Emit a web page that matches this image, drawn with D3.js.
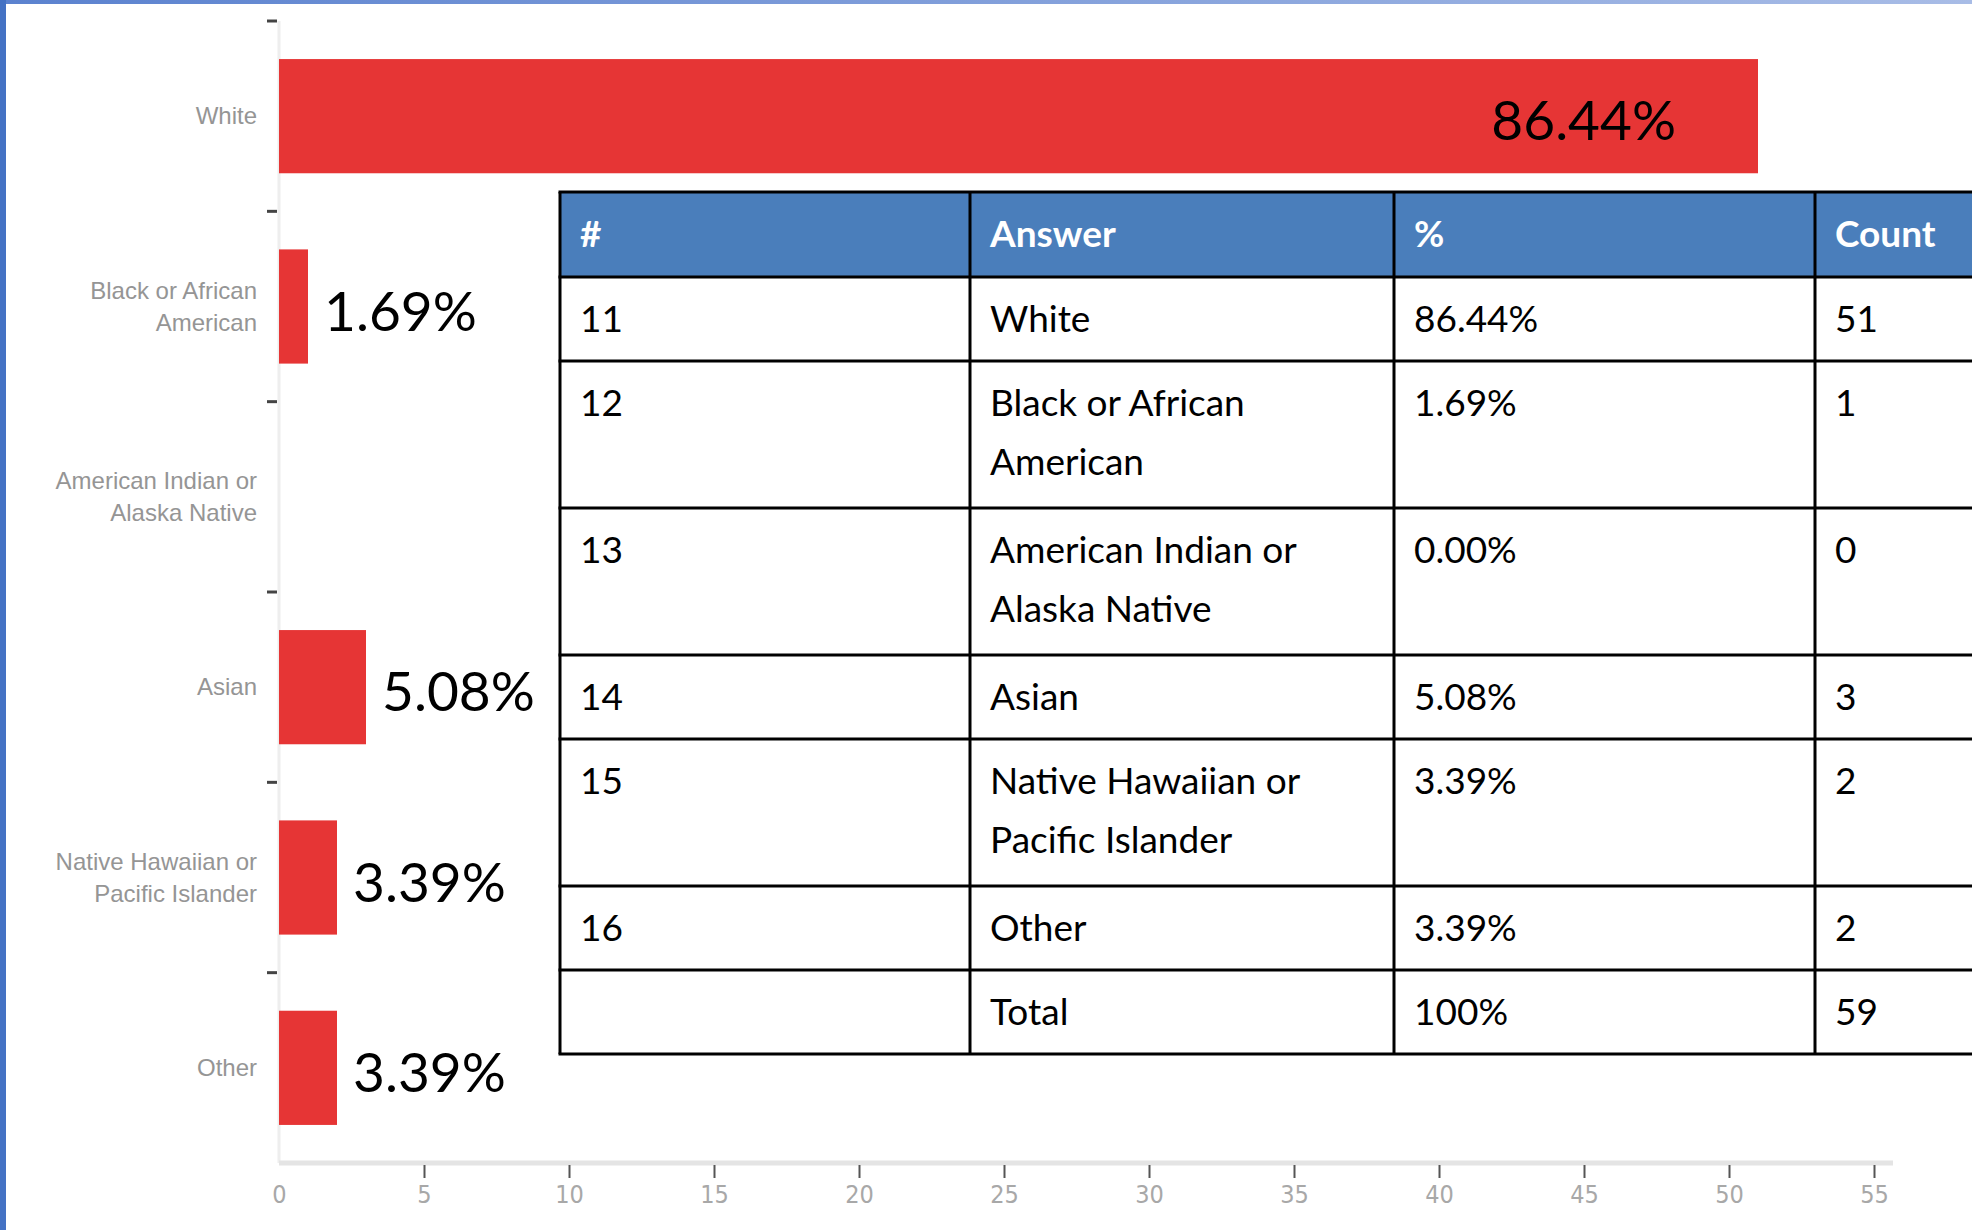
<!DOCTYPE html>
<html lang="en">
<head>
<meta charset="UTF-8">
<title>Race / ethnicity</title>
<script src="https://cdn.jsdelivr.net/npm/d3@7"></script>
<style>
  body { margin: 0; background: #fff; }
  svg { display: block; }
</style>
</head>
<body>
<svg width="1972" height="1230"></svg>
<script>

    // answers, in chart order
    var categories = ["White", "Black or African American", "American Indian or Alaska Native",
                      "Asian", "Native Hawaiian or Pacific Islander", "Other"];
    var labelLines = [["White"], ["Black or African", "American"], ["American Indian or", "Alaska Native"],
                      ["Asian"], ["Native Hawaiian or", "Pacific Islander"], ["Other"]];
    var counts   = [51, 1, 0, 3, 2, 2];
    var percents = ["86.44%", "1.69%", "0.00%", "5.08%", "3.39%", "3.39%"];
    var ids      = [11, 12, 13, 14, 15, 16];
    var xTicks   = [0, 5, 10, 15, 20, 25, 30, 35, 40, 45, 50, 55];

    var tableHeader = ["#", "Answer", "%", "Count"];
    var totalRow    = ["", "Total", "100%", "59"];

    var svg = d3.select("svg"),
        width = +svg.attr("width"),
        height = +svg.attr("height");

    // window frame
    var grad = svg.append("defs").append("linearGradient").attr("id", "topbar");
    grad.append("stop").attr("offset", "0%").attr("stop-color", "#5b82cf");
    grad.append("stop").attr("offset", "100%").attr("stop-color", "#a8bce6");
    svg.append("rect").attr("x", 0).attr("y", 0).attr("width", width).attr("height", 4).attr("fill", "url(#topbar)");
    svg.append("rect").attr("x", 0).attr("y", 0).attr("width", 6).attr("height", height).attr("fill", "#4472c4");

    var x = d3.scaleLinear().domain([0, 55]).range([279, 1874]);
    var y = d3.scaleBand().domain(categories).range([21, 1163])
        .paddingInner(0.4).paddingOuter(0.2);

    // faint y axis line
    svg.append("line")
        .attr("x1", x(0)).attr("x2", x(0))
        .attr("y1", y.range()[0]).attr("y2", y.range()[1])
        .attr("stroke", "#eeeeee").attr("stroke-width", 3);

    // y ticks sit on band boundaries
    var bounds = categories.map(function(c) { return y(c) - y.step() * y.paddingOuter(); });
    svg.append("g").selectAll("line")
        .data(bounds)
        .enter().append("line")
        .attr("x1", x(0) - 12).attr("x2", x(0) - 2)
        .attr("y1", function(d) { return d; }).attr("y2", function(d) { return d; })
        .attr("stroke", "#444").attr("stroke-width", 3);

    // category labels
    var catLabel = svg.append("g")
        .attr("font-family", "'Liberation Sans', Arial, sans-serif")
        .attr("font-size", 24)
        .attr("fill", "#959595")
        .attr("text-anchor", "end")
        .selectAll("text")
        .data(categories)
        .enter().append("text")
        .attr("x", x(0) - 22)
        .attr("y", function(d) { return y(d) + y.bandwidth() / 2; });
    catLabel.selectAll("tspan")
        .data(function(d, i) {
            var lines = labelLines[i];
            return lines.map(function(l, j) { return { t: l, dy: j === 0 ? -(lines.length - 1) * 16 + 8 : 32 }; });
        })
        .enter().append("tspan")
        .attr("x", x(0) - 22)
        .attr("dy", function(d) { return d.dy; })
        .text(function(d) { return d.t; });

    // bars
    svg.append("g").selectAll("rect")
        .data(categories)
        .enter().append("rect")
        .attr("x", x(0))
        .attr("y", function(d) { return y(d); })
        .attr("width", function(d, i) { return x(counts[i]) - x(0); })
        .attr("height", y.bandwidth())
        .attr("fill", "#e63535");

    // value labels
    svg.append("g")
        .attr("font-family", "Lato, 'Open Sans', sans-serif")
        .attr("font-size", 55)
        .attr("fill", "#000")
        .selectAll("text")
        .data(categories.filter(function(d, i) { return counts[i] > 0; }))
        .enter().append("text")
        .each(function(d) {
            var i = categories.indexOf(d),
                inside = counts[i] > 20,
                t = d3.select(this);
            t.attr("x", inside ? x(counts[i]) - 82 : x(counts[i]) + 16)
             .attr("y", y(d) + y.bandwidth() / 2 + 24)
             .attr("text-anchor", inside ? "end" : "start")
             .text(percents[i]);
        });

    // x axis
    svg.append("line")
        .attr("x1", x(0)).attr("x2", 1893)
        .attr("y1", 1163).attr("y2", 1163)
        .attr("stroke", "#e4e4e4").attr("stroke-width", 5);

    var xAxis = svg.append("g")
        .attr("transform", "translate(0,1165)")
        .call(d3.axisBottom(x).tickValues(xTicks).tickSize(13).tickPadding(7));
    xAxis.select(".domain").remove();
    xAxis.selectAll(".tick line").attr("stroke", "#555").attr("stroke-width", 2)
        .attr("opacity", function(d) { return d === 0 ? 0 : 1; });
    xAxis.selectAll(".tick text")
        .attr("font-family", "'Liberation Sans Narrow', 'DejaVu Sans Condensed', 'Liberation Sans', sans-serif")
        .attr("font-size", 25)
        .attr("fill", "#a8a8a8");

    // table
    var tableRows = categories.map(function(c, i) {
        return [String(ids[i]), labelLines[i], percents[i], String(counts[i])];
    });
    tableRows.push([totalRow[0], [totalRow[1]], totalRow[2], totalRow[3]]);

    var colX = [560, 970, 1394, 1815, 2240];
    var lineH = 59, headerH = 85;
    var rowTops = [192 + headerH], rowH = tableRows.map(function(r) { return 21 + 63 * r[1].length; });
    rowH.forEach(function(h, i) { rowTops.push(rowTops[i] + h); });
    var tableBottom = rowTops[rowTops.length - 1];

    var table = svg.append("g").attr("font-family", "Lato, 'Open Sans', sans-serif").attr("font-size", 37);

    table.append("rect")
        .attr("x", colX[0]).attr("y", 192)
        .attr("width", colX[4] - colX[0]).attr("height", tableBottom - 192)
        .attr("fill", "#fff");
    table.append("rect")
        .attr("x", colX[0]).attr("y", 192)
        .attr("width", colX[4] - colX[0]).attr("height", headerH)
        .attr("fill", "#4a7ebb");

    table.selectAll("text.head")
        .data(tableHeader)
        .enter().append("text")
        .attr("class", "head")
        .attr("x", function(d, i) { return colX[i] + 20; })
        .attr("y", 192 + 55)
        .attr("fill", "#fff")
        .attr("font-weight", "bold")
        .text(function(d) { return d; });

    var rowG = table.selectAll("g.row")
        .data(tableRows)
        .enter().append("g")
        .attr("class", "row")
        .attr("transform", function(d, i) { return "translate(0," + rowTops[i] + ")"; });

    rowG.each(function(r) {
        var g = d3.select(this);
        [r[0], r[1], r[2], r[3]].forEach(function(cell, c) {
            var lines = Array.isArray(cell) ? cell : [cell];
            lines.forEach(function(l, j) {
                g.append("text")
                    .attr("x", colX[c] + 20)
                    .attr("y", 55 + j * lineH)
                    .attr("fill", "#000")
                    .text(l);
            });
        });
    });

    // grid lines
    var hLines = [192].concat(rowTops);
    table.selectAll("line.h")
        .data(hLines)
        .enter().append("line")
        .attr("x1", colX[0] - 1.5).attr("x2", colX[4])
        .attr("y1", function(d) { return d; }).attr("y2", function(d) { return d; })
        .attr("stroke", "#000").attr("stroke-width", 3);
    table.selectAll("line.v")
        .data(colX)
        .enter().append("line")
        .attr("x1", function(d) { return d; }).attr("x2", function(d) { return d; })
        .attr("y1", 192).attr("y2", tableBottom)
        .attr("stroke", "#000").attr("stroke-width", 3);

</script>
</body>
</html>
